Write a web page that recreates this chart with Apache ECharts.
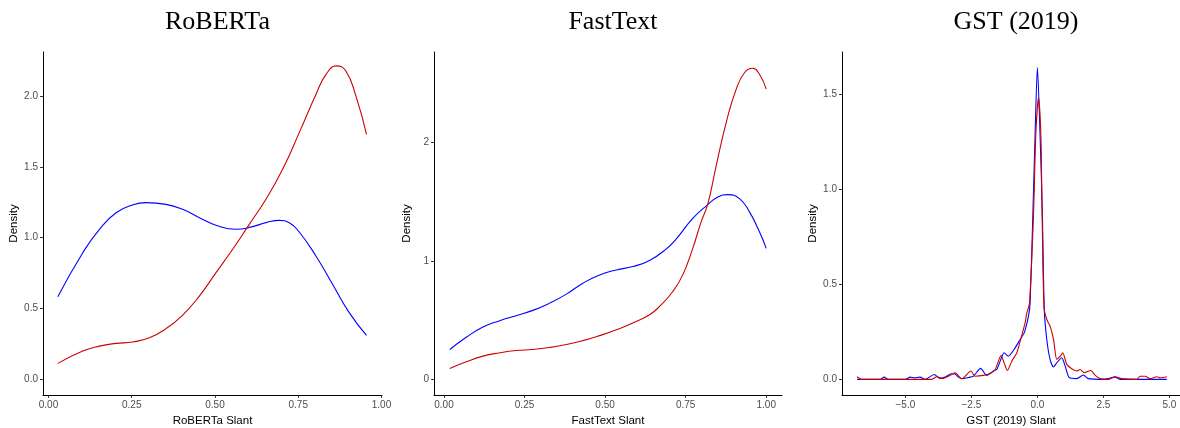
<!DOCTYPE html>
<html>
<head>
<meta charset="utf-8">
<script src="https://cdn.jsdelivr.net/npm/echarts@6/dist/echarts.min.js"></script>
<style>
  html, body { margin: 0; padding: 0; background: #fff; }
  #chart { width: 1180px; height: 428px; }
</style>
</head>
<body>
<div id="chart"></div>
<script>
// Panel titles and axis names
const panelTitles = ['RoBERTa', 'FastText', 'GST (2019)'];
const xNames = ['RoBERTa Slant', 'FastText Slant', 'GST (2019) Slant'];

// Tick values per panel
const xTicks = [[0, 0.25, 0.5, 0.75, 1.0], [0, 0.25, 0.5, 0.75, 1.0], [-5, -2.5, 0, 2.5, 5]];
const yTicks = [[0, 0.5, 1.0, 1.5, 2.0], [0, 1, 2], [0, 0.5, 1.0, 1.5]];

// RoBERTa slant density, [slant, density]
const robertaBlue = [
  [0.028, 0.584], [0.103, 0.894], [0.153, 1.059], [0.203, 1.176], [0.253, 1.231],
  [0.293, 1.247], [0.353, 1.235], [0.403, 1.200], [0.453, 1.141], [0.503, 1.088],
  [0.563, 1.059], [0.613, 1.078], [0.653, 1.106], [0.693, 1.122], [0.723, 1.106],
  [0.753, 1.040], [0.803, 0.871], [0.853, 0.671], [0.903, 0.471], [0.955, 0.311]
];
const robertaRed = [
  [0.028, 0.113], [0.103, 0.200], [0.153, 0.235], [0.203, 0.254], [0.253, 0.264],
  [0.303, 0.294], [0.353, 0.358], [0.403, 0.454], [0.453, 0.588], [0.503, 0.753],
  [0.553, 0.918], [0.603, 1.094], [0.653, 1.271], [0.703, 1.482], [0.753, 1.741],
  [0.803, 2.010], [0.833, 2.150], [0.865, 2.212], [0.893, 2.176], [0.923, 2.000],
  [0.955, 1.729]
];

// FastText slant density
const fasttextBlue = [
  [0.018, 0.252], [0.069, 0.355], [0.121, 0.442], [0.173, 0.495], [0.224, 0.537],
  [0.276, 0.582], [0.328, 0.643], [0.380, 0.719], [0.431, 0.811], [0.483, 0.881],
  [0.535, 0.923], [0.586, 0.951], [0.638, 1.003], [0.690, 1.100], [0.721, 1.185],
  [0.772, 1.357], [0.819, 1.474], [0.850, 1.538], [0.881, 1.558], [0.917, 1.524],
  [0.948, 1.412], [0.979, 1.244], [1.000, 1.105]
];
const fasttextRed = [
  [0.018, 0.092], [0.069, 0.148], [0.121, 0.196], [0.173, 0.224], [0.224, 0.243],
  [0.276, 0.252], [0.328, 0.269], [0.380, 0.294], [0.431, 0.327], [0.483, 0.369],
  [0.535, 0.418], [0.586, 0.475], [0.638, 0.545], [0.669, 0.615], [0.710, 0.741],
  [0.741, 0.881], [0.772, 1.105], [0.798, 1.328], [0.819, 1.482], [0.845, 1.804],
  [0.876, 2.167], [0.907, 2.447], [0.933, 2.587], [0.957, 2.623], [0.979, 2.573],
  [1.000, 2.447]
];

// GST (2019) slant density
const gstBlue = [
  [-6.83, 0.0], [-6.2, 0.0], [-5.95, 0.0], [-5.80, 0.012], [-5.65, 0.0], [-5.0, 0.0],
  [-4.82, 0.012], [-4.65, 0.008], [-4.45, 0.012], [-4.25, 0.0], [-3.91, 0.026],
  [-3.69, 0.005], [-3.5, 0.012], [-3.25, 0.030], [-3.12, 0.028], [-2.95, 0.008],
  [-2.81, 0.004], [-2.55, 0.012], [-2.42, 0.017], [-2.15, 0.058], [-1.92, 0.021],
  [-1.67, 0.044], [-1.54, 0.052], [-1.40, 0.100], [-1.26, 0.140], [-1.10, 0.122],
  [-0.845, 0.166], [-0.655, 0.210], [-0.50, 0.245], [-0.34, 0.332], [-0.277, 0.400],
  [-0.175, 0.856], [-0.087, 1.290], [0.0, 1.640], [0.10, 1.290], [0.19, 0.856],
  [0.26, 0.367], [0.355, 0.210], [0.48, 0.105], [0.61, 0.065], [0.73, 0.087],
  [0.92, 0.114], [1.05, 0.070], [1.21, 0.009], [1.49, 0.004], [1.74, 0.023],
  [1.93, 0.004], [2.5, 0.0], [2.94, 0.012], [3.15, 0.0], [4.90, 0.0]
];
const gstRed = [
  [-6.83, 0.014], [-6.65, 0.0], [-6.0, 0.0], [-4.0, 0.0], [-3.81, 0.014], [-3.6, 0.005],
  [-3.31, 0.021], [-3.12, 0.035], [-2.86, 0.004], [-2.52, 0.044], [-2.36, 0.017],
  [-2.05, 0.021], [-1.79, 0.031], [-1.60, 0.052], [-1.375, 0.126], [-1.26, 0.087],
  [-1.135, 0.047], [-0.97, 0.096], [-0.78, 0.140], [-0.62, 0.218], [-0.466, 0.297],
  [-0.40, 0.350], [-0.30, 0.400], [-0.15, 0.856], [-0.06, 1.290], [0.04, 1.480],
  [0.13, 1.290], [0.18, 0.856], [0.25, 0.380], [0.355, 0.315], [0.48, 0.280],
  [0.61, 0.210], [0.735, 0.105], [0.86, 0.122], [0.96, 0.140], [1.11, 0.079],
  [1.30, 0.056], [1.49, 0.044], [1.62, 0.052], [1.77, 0.035], [2.02, 0.047],
  [2.19, 0.021], [2.37, 0.004], [2.7, 0.0], [2.94, 0.014], [3.19, 0.004], [3.76, 0.0],
  [3.89, 0.017], [4.08, 0.017], [4.27, 0.004], [4.52, 0.014], [4.65, 0.009], [4.90, 0.014]
];

const panelSeries = [
  [robertaBlue, robertaRed],
  [fasttextBlue, fasttextRed],
  [gstBlue, gstRed]
];

// Plot-region geometry and axis extents for each panel
const grids = [
  { left: 43, top: 52, width: 339, height: 343 },
  { left: 434, top: 52, width: 348, height: 343 },
  { left: 842, top: 52, width: 338, height: 343 }
];
const xRanges = [[-0.0165, 1.0015], [-0.031, 1.049], [-7.4, 5.4]];
const yRanges = [[-0.11, 2.31], [-0.1315, 2.76], [-0.082, 1.722]];
const xDigits = [2, 2, 1];
const yDigits = [1, 0, 1];

const sans = '"Liberation Sans", Arial, sans-serif';
const serif = '"Liberation Serif", "Times New Roman", serif';
const BLUE = '#0000FF';
const RED = '#CC0000';

function fmt(v, d) {
  const s = Math.abs(v).toFixed(d);
  return v < 0 ? '\u2212' + s : s;
}

const option = {
  animation: false,
  backgroundColor: '#fff',
  title: panelTitles.map((t, i) => ({
    text: t,
    left: grids[i].left + grids[i].width / 2,
    textAlign: 'center',
    top: 4,
    textStyle: { fontFamily: serif, fontSize: 26, fontWeight: 'normal', color: '#000' }
  })),
  grid: grids.map(g => Object.assign({ containLabel: false, outerBoundsMode: 'none' }, g)),
  xAxis: grids.map((g, i) => ({
    type: 'value',
    gridIndex: i,
    min: xRanges[i][0],
    max: xRanges[i][1],
    name: xNames[i],
    nameLocation: 'middle',
    nameGap: 19,
    nameTextStyle: { fontFamily: sans, fontSize: 11.5, color: '#000' },
    axisLine: { show: true, onZero: false, lineStyle: { color: '#000', width: 1 } },
    axisTick: { show: true, length: 3, customValues: xTicks[i], lineStyle: { color: '#333', width: 1 } },
    axisLabel: {
      customValues: xTicks[i], margin: 5, fontFamily: sans, fontSize: 10, color: '#4D4D4D',
      formatter: v => fmt(v, xDigits[i])
    },
    splitLine: { show: false }
  })),
  yAxis: grids.map((g, i) => ({
    type: 'value',
    gridIndex: i,
    min: yRanges[i][0],
    max: yRanges[i][1],
    name: 'Density',
    nameLocation: 'middle',
    nameGap: 21,
    nameTextStyle: { fontFamily: sans, fontSize: 11.5, color: '#000' },
    axisLine: { show: true, onZero: false, lineStyle: { color: '#000', width: 1 } },
    axisTick: { show: true, length: 3, customValues: yTicks[i], lineStyle: { color: '#333', width: 1 } },
    axisLabel: {
      customValues: yTicks[i], margin: 5, fontFamily: sans, fontSize: 10, color: '#4D4D4D',
      formatter: v => fmt(v, yDigits[i])
    },
    splitLine: { show: false }
  })),
  series: []
};

panelSeries.forEach((pair, i) => {
  [BLUE, RED].forEach((c, k) => {
    option.series.push({
      type: 'line',
      name: (k === 0 ? 'blue' : 'red') + i,
      xAxisIndex: i,
      yAxisIndex: i,
      data: pair[k],
      showSymbol: false,
      smooth: i === 2 ? 0.25 : 0.5,
      lineStyle: { color: c, width: 1.1 },
      itemStyle: { color: c },
      z: k === 0 ? 2 : 3
    });
  });
});

const chart = echarts.init(document.getElementById('chart'), null, { renderer: 'canvas' });
chart.setOption(option);
</script>
</body>
</html>
